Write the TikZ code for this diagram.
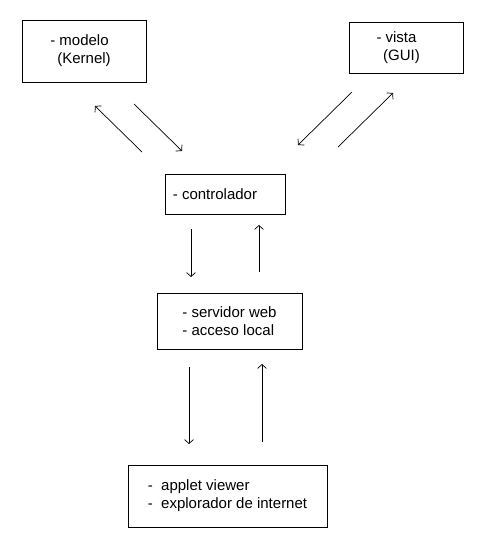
\documentclass[tikz,border=0pt]{standalone}
\usepackage{fontspec}
\setmainfont{Liberation Sans}
\usetikzlibrary{arrows.meta, positioning}

\begin{document}
\begin{tikzpicture}[
    x=1pt, y=-1pt,
    box/.style={rectangle, draw, line width=0.8pt, align=center, inner sep=0pt, font=\fontsize{15}{18}\selectfont},
    arrow/.style={-{Straight Barb[length=4pt, width=9pt]}, line width=0.7pt}
]
\useasboundingbox (0,0) rectangle (483,554);

% Nodes
\node[box, minimum width=124pt, minimum height=62pt] (modelo) at (84,51) {- modelo\hspace*{9pt}\\(Kernel)};
\node[box, minimum width=114pt, minimum height=51pt] (vista) at (406,47.5) {- vista\hspace*{19pt}\\(GUI)\hspace*{9pt}};
\node[box, minimum width=120pt, minimum height=40pt] (controlador) at (225,194) {- controlador\hspace*{20pt}};
\node[box, minimum width=145pt, minimum height=56pt, align=left] (servidor) at (229.5,321) {- servidor web\\- acceso local};
\node[box, minimum width=199pt, minimum height=62pt, align=left] (cliente) at (227.5,496) {-~~applet viewer\\-~~explorador de internet};

% Arrow ends
\coordinate (mc1) at (142,152); \coordinate (mc2) at (95,106);
\coordinate (cm1) at (134,104); \coordinate (cm2) at (182,151);
\coordinate (vc1) at (352,92);  \coordinate (vc2) at (298,145);
\coordinate (cv1) at (338,147); \coordinate (cv2) at (393,93);
\coordinate (cs1) at (191,229); \coordinate (cs2) at (191,277);
\coordinate (sc1) at (259,272); \coordinate (sc2) at (259,225);
\coordinate (sa1) at (189,367); \coordinate (sa2) at (189,444);
\coordinate (as1) at (262,442); \coordinate (as2) at (262,364);

% Arrows
\draw[arrow] (mc1) -- (mc2);
\draw[arrow] (cm1) -- (cm2);
\draw[arrow] (vc1) -- (vc2);
\draw[arrow] (cv1) -- (cv2);
\draw[arrow] (cs1) -- (cs2);
\draw[arrow] (sc1) -- (sc2);
\draw[arrow] (sa1) -- (sa2);
\draw[arrow] (as1) -- (as2);

\end{tikzpicture}
\end{document}
